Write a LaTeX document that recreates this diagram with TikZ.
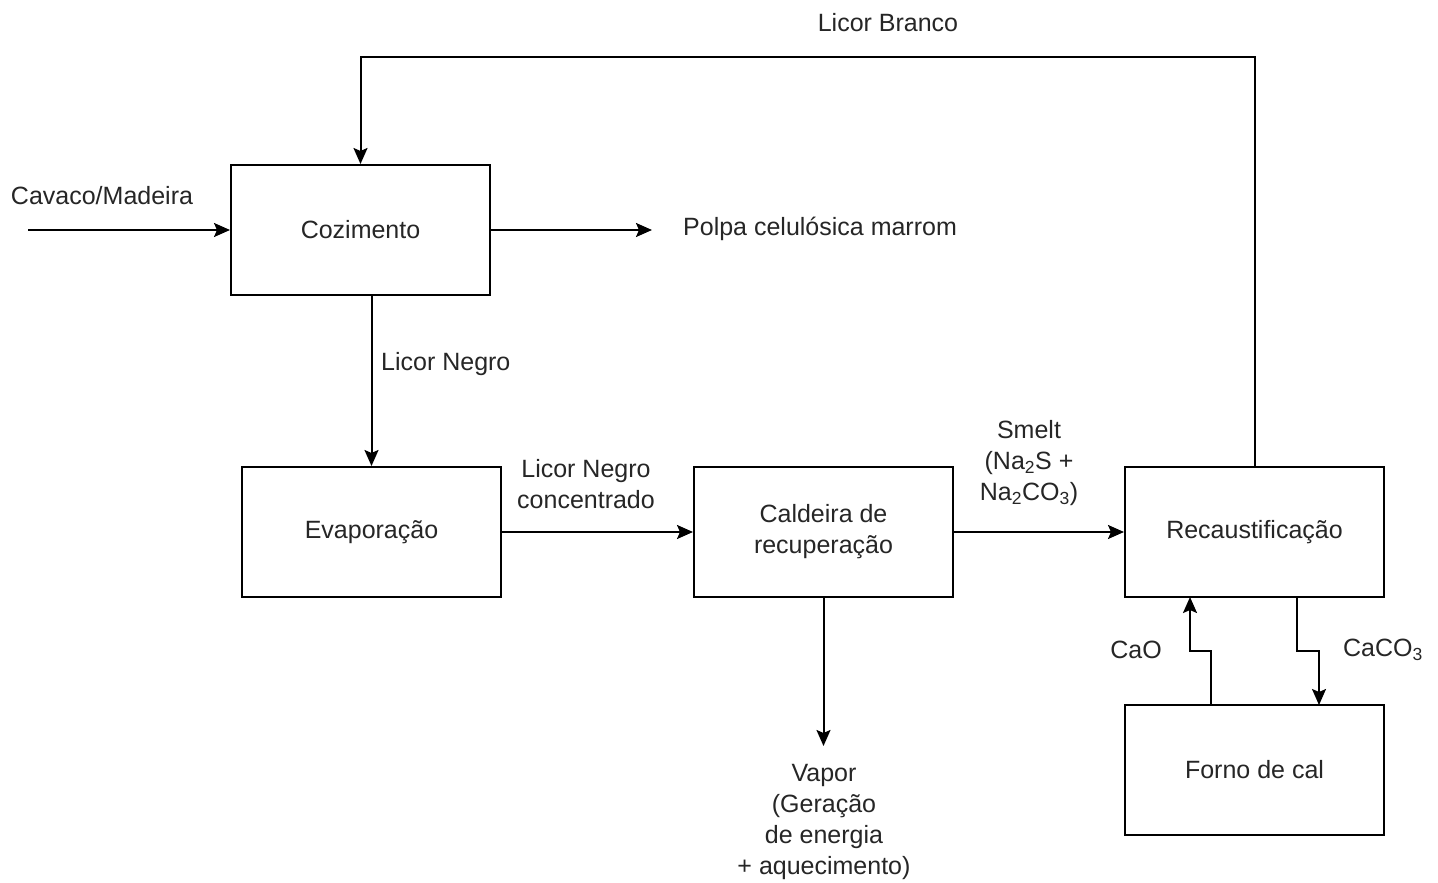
\documentclass[tikz,border=0pt]{standalone}
\usepackage{fontspec}
\setmainfont{Liberation Sans}
\usetikzlibrary{arrows.meta,calc}
\begin{document}
\begin{tikzpicture}[x=1pt,y=-1pt,
  every node/.style={font=\fontsize{25}{31}\selectfont, text=black!85},
  blk/.style={draw=black, line width=2pt, minimum width=259pt, minimum height=130pt, inner sep=0pt, align=center},
  lbl/.style={inner sep=0pt, align=center},
  flow/.style={line width=2pt, -{Stealth[length=16pt,width=14pt,inset=3pt]}}]
\useasboundingbox (0,0) rectangle (1438,883);
\fill[white] (0,0) rectangle (1438,883);
% blocks
\node[blk] (coz) at (360.5,230) {Cozimento};
\node[blk] (evap) at (371.5,532) {Evaporação};
\node[blk] (cald) at (823.5,532) {Caldeira de\\recuperação};
\node[blk] (rec) at (1254.5,532) {Recaustificação};
\node[blk] (forno) at (1254.5,770) {Forno de cal};
% texts
\node[lbl] (cavaco) at (102,196) {Cavaco/Madeira};
\coordinate (cavin) at (28,230);
\node[lbl, anchor=west] (polpa) at (683,229) {Polpa celulósica marrom};
\coordinate (polpaend) at (652,230);
\node[lbl] (branco) at (888,23) {Licor Branco};
\node[lbl, anchor=west] (negro) at (381,364) {Licor Negro};
\node[lbl, anchor=west] (conc) at (517,484) {Licor Negro\\concentrado};
\node[lbl] (smelt) at (1029,463) {Smelt\\(Na\textsubscript{2}S +\\Na\textsubscript{2}CO\textsubscript{3})};
\node[lbl] (vapor) at (824,822) {Vapor\\(Geração\\de energia\\+ aquecimento)};
\coordinate (vapend) at (823.5,746);
\node[lbl] (cao) at (1136,650) {CaO};
\node[lbl] (caco) at (1383,650) {CaCO\textsubscript{3}};
% connectors
\draw[flow] (cavin) -- (coz.west);
\draw[flow] (coz.east) -- (polpaend);
\draw[flow] (rec.north) -- ++(0,-409) -| (coz.north);
\draw[flow] (coz.south -| evap.north) -- (evap.north);
\draw[flow] (evap.east) -- (cald.west);
\draw[flow] (cald.east) -- (rec.west);
\draw[flow] (cald.south) -- (vapend);
\coordinate (caoA) at (1211,705);
\coordinate (caoB) at (1190,597);
\draw[flow] (caoA) -- (1211,651) -- (1190,651) -- (caoB);
\coordinate (cacoA) at (1297,597);
\coordinate (cacoB) at (1319,705);
\draw[flow] (cacoA) -- (1297,651) -- (1319,651) -- (cacoB);
\end{tikzpicture}
\end{document}
